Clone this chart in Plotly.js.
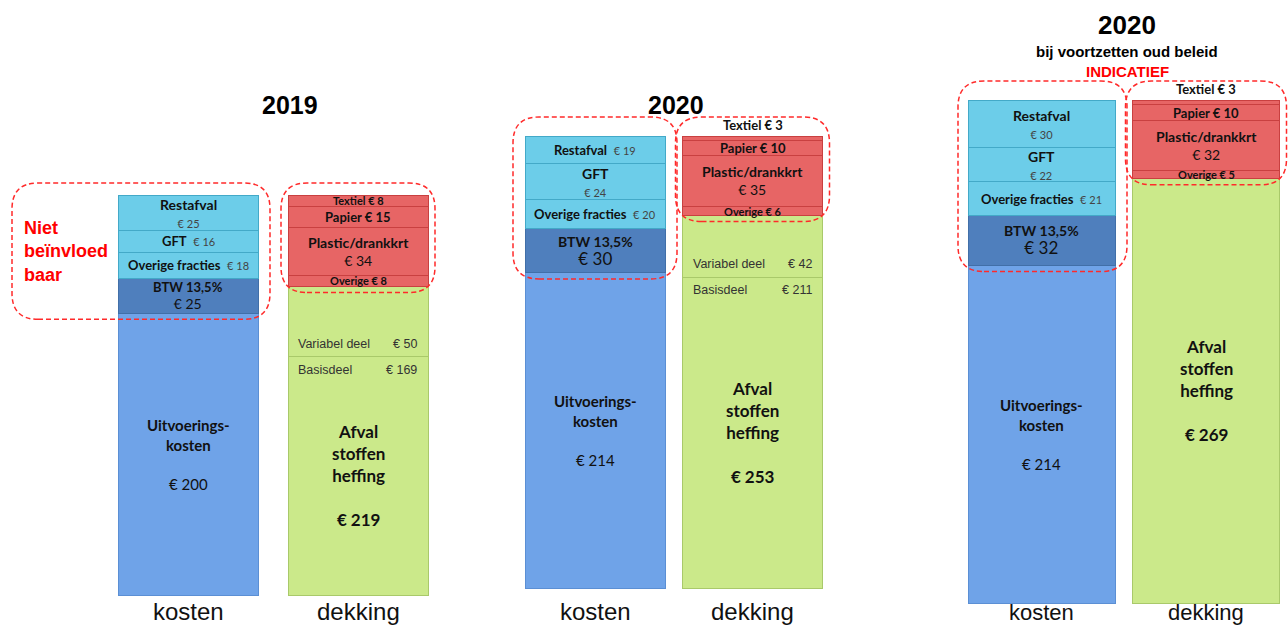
<!DOCTYPE html>
<html><head><meta charset="utf-8">
<script src="https://cdn.plot.ly/plotly-3.0.1.min.js"></script>
<style>html,body{margin:0;padding:0;background:#fff}#chart{width:1288px;height:628px}</style>
</head><body><div id="chart"></div>
<script>
// ---------- data ----------
const jaren = ['2019', '2020', '2020'];
const uitvoeringskosten = [200, 214, 214];
const btw = [25, 30, 32];
const overigeFracties = [18, 20, 21];
const gft = [16, 24, 22];
const restafval = [25, 19, 30];
const basisdeel = [169, 211, null];
const variabelDeel = [50, 42, null];
const afvalstoffenheffing = [219, 253, 269];
const overige = [8, 6, 5];
const plastic = [34, 35, 32];
const papier = [15, 10, 10];
const textiel = [8, 3, 3];
const categorieen = ['kosten', 'dekking'];

// ---------- layout (pixels) ----------
const W = 1288, H = 628;
const geo = [
  {d0: 0,   d1: 470,  c0: 188,    gap: 170,   bw: 140, base: 595, top: 195, leftExtra: 106, lab: 24},
  {d0: 470, d1: 895,  c0: 595,    gap: 157.5, bw: 140, base: 588, top: 136, leftExtra: 12,  lab: 24},
  {d0: 895, d1: 1288, c0: 1041.5, gap: 164.5, bw: 147, base: 603, top: 100, leftExtra: 10,  lab: 22}
];
const pal = {
  uitv:  {fill: '#6fa3e8', line: '#5b8fd4'},
  btw:   {fill: '#4f7fbd', line: '#416fa8'},
  cyan:  {fill: '#6ccde9', line: '#43a9c8'},
  red:   {fill: '#e76565', line: '#c94040'},
  green: {fill: '#cbe98a', line: '#a9c96a'}
};
const FONT = 'Lato, "Open Sans", sans-serif';
const ARIAL = '"Liberation Sans", Arial, sans-serif';
const sum = a => a.reduce((p, c) => p + (c || 0), 0);

const traces = [], annotations = [], shapes = [];
const layout = {
  width: W, height: H, margin: {l: 0, r: 0, t: 0, b: 0},
  barmode: 'stack', showlegend: false,
  paper_bgcolor: '#ffffff', plot_bgcolor: 'rgba(0,0,0,0)'
};

function roundBox(x0, x1, y0, y1, rx, ry) {
  const f = v => v.toFixed(5);
  return `M${f(x0+rx)},${f(y0)} L${f(x1-rx)},${f(y0)} Q${f(x1)},${f(y0)} ${f(x1)},${f(y0+ry)} ` +
         `L${f(x1)},${f(y1-ry)} Q${f(x1)},${f(y1)} ${f(x1-rx)},${f(y1)} L${f(x0+rx)},${f(y1)} ` +
         `Q${f(x0)},${f(y1)} ${f(x0)},${f(y1-ry)} L${f(x0)},${f(y0+ry)} Q${f(x0)},${f(y0)} ${f(x0+rx)},${f(y0)} Z`;
}

geo.forEach((g, i) => {
  const s = i === 0 ? '' : String(i + 1);
  const xa = 'x' + s, ya = 'y' + s;
  const kSeg = [
    {name: 'Uitvoeringskosten', v: uitvoeringskosten[i], kind: 'uitv'},
    {name: 'BTW 13,5%', v: btw[i], kind: 'btw'},
    {name: 'Overige fracties', v: overigeFracties[i], kind: 'cyan'},
    {name: 'GFT', v: gft[i], kind: 'cyan'},
    {name: 'Restafval', v: restafval[i], kind: 'cyan'}
  ];
  const dSeg = [];
  if (basisdeel[i] != null) {
    dSeg.push({name: 'Basisdeel', v: basisdeel[i], kind: 'green', role: 'basis'});
    dSeg.push({name: 'Variabel deel', v: variabelDeel[i], kind: 'green', role: 'variabel'});
  } else {
    dSeg.push({name: 'Afvalstoffenheffing', v: afvalstoffenheffing[i], kind: 'green', role: 'afval'});
  }
  dSeg.push({name: 'Overige', v: overige[i], kind: 'red'});
  dSeg.push({name: 'Plastic/drankkrt', v: plastic[i], kind: 'red'});
  dSeg.push({name: 'Papier', v: papier[i], kind: 'red'});
  dSeg.push({name: 'Textiel', v: textiel[i], kind: 'red'});

  const total = Math.max(sum(kSeg.map(d => d.v)), sum(dSeg.map(d => d.v)));
  const ppu = (g.base - g.top) / total;
  const w = g.bw / g.gap;

  layout['xaxis' + s] = {domain: [g.d0 / W, g.d1 / W], range: [(g.d0 - g.c0) / g.gap, (g.d1 - g.c0) / g.gap],
                         visible: false, fixedrange: true, anchor: ya};
  layout['yaxis' + s] = {domain: [0, 1], range: [-(H - g.base) / ppu, total + g.top / ppu],
                         visible: false, fixedrange: true, anchor: xa};

  const stack = (segs, xpos) => {
    let cum = 0;
    return segs.map(d => {
      const y0 = cum; cum += d.v;
      traces.push({type: 'bar', x: [xpos], y: [d.v], xaxis: xa, yaxis: ya, width: [w], name: d.name,
                   marker: {color: pal[d.kind].fill, line: {color: pal[d.kind].line, width: 1}},
                   hoverinfo: 'skip'});
      return Object.assign({}, d, {y0: y0, y1: cum, h: d.v * ppu});
    });
  };
  const kS = stack(kSeg, 0);
  const dS = stack(dSeg, 1);
  const ann = o => annotations.push(Object.assign({xref: xa, yref: ya, showarrow: false,
                                                   xanchor: 'center', yanchor: 'middle'}, o));

  // kosten labels
  kS.forEach(d => {
    const mid = (d.y0 + d.y1) / 2;
    if (d.kind === 'uitv') {
      ann({x: 0, y: mid, text: '<b>Uitvoerings-<br>kosten</b><br><br>€ ' + d.v,
           font: {family: FONT, size: 15, color: '#111'}});
    } else if (d.kind === 'btw') {
      if (d.h >= 40) {
        ann({x: 0, y: mid, text: '<b>BTW 13,5%</b><br><span style="font-size:17px">€ ' + d.v + '</span>',
             font: {family: FONT, size: 14, color: '#111'}});
      } else {
        ann({x: 0, y: mid, text: '<b>BTW 13,5%</b><br><span style="font-size:14px">€ ' + d.v + '</span>',
             font: {family: FONT, size: 13, color: '#111'}});
      }
    } else {
      if (d.h >= 34) {
        ann({x: 0, y: mid,
             text: '<b>' + d.name + '</b><br><span style="font-size:11px;color:#444">€ ' + d.v + '</span>',
             font: {family: FONT, size: 14, color: '#111'}});
      } else {
        ann({x: 0, y: mid,
             text: '<b>' + d.name + '</b>  <span style="font-size:11px;color:#444">€ ' + d.v + '</span>',
             font: {family: FONT, size: 13, color: '#111'}});
      }
    }
  });

  // dekking labels
  let redAbove = 0;
  const topSeg = dS[dS.length - 1];
  dS.forEach(d => {
    const mid = (d.y0 + d.y1) / 2;
    if (d.kind === 'red') {
      if (d.h >= 36) {
        ann({x: 1, y: mid, text: '<b>' + d.name + '</b><br>€ ' + d.v, font: {family: FONT, size: 14, color: '#111'}});
      } else if (d === topSeg && d.h < 8) {
        redAbove = 16;
        ann({x: 1, y: d.y1, yanchor: 'bottom', yshift: 1, text: '<b>' + d.name + ' € ' + d.v + '</b>',
             font: {family: FONT, size: 13, color: '#111'}});
      } else {
        ann({x: 1, y: mid, text: '<b>' + d.name + ' € ' + d.v + '</b>',
             font: {family: FONT, size: d.h >= 14 ? 13 : 11, color: '#111'}});
      }
    } else {
      const xl = 1 - w / 2 + 8 / g.gap, xr = 1 + w / 2 - 9 / g.gap;
      const f = {family: ARIAL, size: 12.5, color: '#333'};
      if (d.role === 'variabel') {
        ann({x: xl, y: d.y0, xanchor: 'left', yanchor: 'bottom', yshift: 4, text: d.name, font: f});
        ann({x: xr, y: d.y0, xanchor: 'right', yanchor: 'bottom', yshift: 4, text: '€ ' + d.v, font: f});
      }
      if (d.role === 'basis') {
        ann({x: xl, y: d.y1, xanchor: 'left', yanchor: 'top', yshift: -4, text: d.name, font: f});
        ann({x: xr, y: d.y1, xanchor: 'right', yanchor: 'top', yshift: -4, text: '€ ' + d.v, font: f});
      }
      if (d.role === 'basis' || d.role === 'afval') {
        ann({x: 1, y: mid, text: '<b>Afval<br>stoffen<br>heffing<br><br>€ ' + afvalstoffenheffing[i] + '</b>',
             font: {family: FONT, size: 17, color: '#111'}});
      }
    }
  });

  // dashed rounded boxes
  const padTop = (redAbove ? redAbove + 3 : 12) / ppu, padBot = 6 / ppu;
  const boxTop = total + padTop;
  const rx = 26 / g.gap, ry = 26 / ppu;
  const lineStyle = {color: '#ff2a2a', width: 1.5, dash: '5px,3px'};
  const lx0 = -w / 2 - g.leftExtra / g.gap, lx1 = w / 2 + 12 / g.gap;
  const ly0 = uitvoeringskosten[i] - padBot;
  shapes.push({type: 'path', xref: xa, yref: ya, layer: 'above', line: lineStyle, fillcolor: 'rgba(0,0,0,0)',
               path: roundBox(lx0, lx1, ly0, boxTop, rx, ry)});
  const rx0 = 1 - w / 2 - 7 / g.gap, rx1 = 1 + w / 2 + 7 / g.gap;
  const ry0 = afvalstoffenheffing[i] - padBot;
  shapes.push({type: 'path', xref: xa, yref: ya, layer: 'above', line: lineStyle, fillcolor: 'rgba(0,0,0,0)',
               path: roundBox(rx0, rx1, ry0, boxTop, rx, ry)});

  if (i === 0) {
    ann({x: lx0 + 10 / g.gap, y: (ly0 + boxTop) / 2, xanchor: 'left', align: 'left',
         text: '<b>Niet<br>beïnvloed<br>baar</b>', font: {family: ARIAL, size: 18, color: '#ff0000'}});
  }

  // category labels (sit on the bottom edge of the picture)
  categorieen.forEach((c, k) => {
    annotations.push({xref: xa, yref: 'paper', x: k, y: 0, xanchor: 'center', yanchor: 'bottom', yshift: 1,
                      showarrow: false, text: c, font: {family: ARIAL, size: g.lab, color: '#111'}});
  });
});

// titles
const pap = (x, y, text, size, color) => annotations.push({xref: 'paper', yref: 'paper', x: x / W, y: 1 - y / H,
  xanchor: 'center', yanchor: 'middle',
  showarrow: false, text: text, font: {family: ARIAL, size: size, color: color || '#000'}});
pap(290, 105, '<b>' + jaren[0] + '</b>', 25);
pap(676, 105, '<b>' + jaren[1] + '</b>', 25);
pap(1127, 25, '<b>' + jaren[2] + '</b>', 26);
pap(1127, 51, '<b>bij voortzetten oud beleid</b>', 15);
pap(1127, 72, '<b>INDICATIEF</b>', 15, '#ff0000');

layout.annotations = annotations;
layout.shapes = shapes;
Plotly.newPlot('chart', traces, layout, {displayModeBar: false, staticPlot: true});
</script></body></html>
